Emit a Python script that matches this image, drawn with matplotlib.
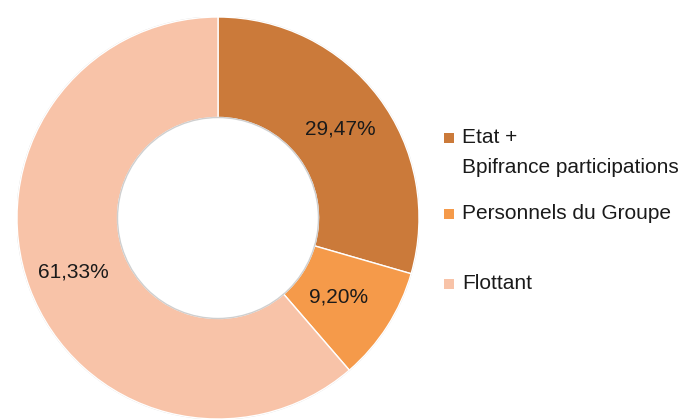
import matplotlib.pyplot as plt
from matplotlib.patches import Rectangle

plt.rcParams['font.family'] = ['Liberation Sans', 'DejaVu Sans']

categories = ["Etat +\nBpifrance participations", "Personnels du Groupe", "Flottant"]
values = [29.47, 9.20, 61.33]
colors = ["#CB7A3A", "#F59A4A", "#F8C3A8"]

fig = plt.figure(figsize=(6.83, 4.19), dpi=100)
ax = fig.add_axes([17 / 683, 0 / 419, 402 / 683, 402 / 419])

wedges, texts = ax.pie(values, colors=colors, startangle=90, counterclock=False,
                       radius=1.0, wedgeprops=dict(width=0.5, edgecolor="white", linewidth=1))
ax.set_xlim(-1, 1)
ax.set_ylim(-1, 1)
ax.set_aspect("equal")
ax.axis("off")

# faint grey outline round the ring
ax.add_patch(plt.Circle((0, 0), 1.0, fill=False, edgecolor="#d8d8d8", linewidth=1, zorder=0))
ax.add_patch(plt.Circle((0, 0), 0.5, fill=False, edgecolor="#cfcfcf", linewidth=1))

# percentage labels
label_pos = [(0.61, 0.445), (0.60, -0.395), (-0.72, -0.27)]
for v, (x, y) in zip(values, label_pos):
    ax.text(x, y, f"{v:.2f}%".replace(".", ","), ha="center", va="center",
            fontsize=15, color="#1a1a1a")

# legend drawn by hand
leg_y = [138, 214, 284]
for lab, c, y in zip(categories, colors, leg_y):
    fig.patches.append(Rectangle((444 / 683, 1 - (y + 5) / 419), 10 / 683, 10 / 419,
                                 transform=fig.transFigure, facecolor=c, edgecolor="none"))
    fig.text(462 / 683, 1 - (y - 10) / 419, lab, ha="left", va="top", fontsize=15,
             color="#1a1a1a", linespacing=1.75)

fig.savefig("out.png", dpi=100)
